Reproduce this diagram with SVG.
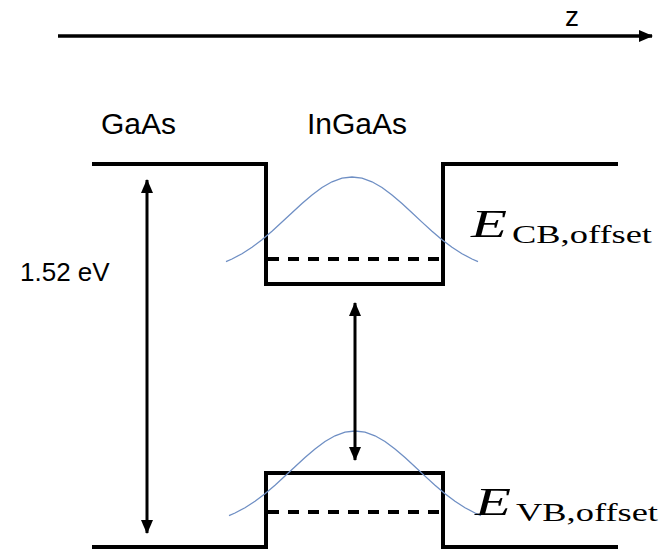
<svg xmlns="http://www.w3.org/2000/svg" width="664" height="552" viewBox="0 0 664 552">
<style>
.band{fill:none;stroke:#000;stroke-width:4;stroke-linejoin:miter}
.dash{fill:none;stroke:#000;stroke-width:4;stroke-dasharray:11 9}
.arr{fill:none;stroke:#000;stroke-width:3}
.axis{fill:none;stroke:#000;stroke-width:3.5}
.wave{fill:none;stroke:#6f8fc4;stroke-width:1.3}
.lbl{font-family:"Liberation Sans",Arial,sans-serif;font-size:30px;fill:#000}
.eit{font-family:"Liberation Serif","Times New Roman",serif;font-style:italic;font-size:40px;fill:#000}
.sub{font-family:"Liberation Serif","Times New Roman",serif;font-size:25px;fill:#000}
</style>
<defs>
<marker id="ah" viewBox="0 0 14 12" refX="13" refY="6" markerWidth="14" markerHeight="12" markerUnits="userSpaceOnUse" orient="auto-start-reverse">
<path d="M0,0 L14,6 L0,12 Z" fill="#000"/>
</marker>
<path id="gauss" d="M226,261.7 L232,259 L242,253.7 L252,247.2 L262,239.7 L272,231.2 L282,222.1 L292,212.7 L302,203.5 L312,194.9 L322,187.5 L332,181.8 L342,178.2 L352,177 L362,178.2 L372,181.8 L382,187.5 L392,194.9 L402,203.5 L412,212.7 L422,222.1 L432,231.2 L442,239.7 L452,247.2 L462,253.7 L472,259 L478,261.7"/>
</defs>
<g id="z-axis">
<line class="axis" x1="58" y1="36" x2="652" y2="36" marker-end="url(#ah)"/>
<text class="lbl" x="565" y="26" style="font-size:28px">z</text>
</g>
<g id="labels">
<text class="lbl" x="101" y="134">GaAs</text>
<text class="lbl" x="307" y="134">InGaAs</text>
<text class="lbl" x="20" y="281" style="font-size:26px">1.52 eV</text>
</g>
<g id="conduction-band">
<path class="band" d="M92,164 H266 V284 H443 V164 H618"/>
<line class="dash" x1="268" y1="259" x2="441" y2="259"/>
<use href="#gauss" class="wave"/>
</g>
<g id="valence-band">
<path class="band" d="M92,547 H266 V473 H443 V547 H618"/>
<line class="dash" x1="268" y1="512" x2="441" y2="512"/>
<use href="#gauss" class="wave" transform="translate(3,254)"/>
</g>
<g id="connectors">
<line class="arr" x1="147" y1="180" x2="147" y2="533" marker-start="url(#ah)" marker-end="url(#ah)"/>
<line class="arr" x1="355" y1="303" x2="355" y2="460" marker-start="url(#ah)" marker-end="url(#ah)"/>
</g>
<g id="e-cb">
<text class="eit" x="471" y="237" textLength="36" lengthAdjust="spacingAndGlyphs">E</text>
<text class="sub" x="512" y="243" textLength="140" lengthAdjust="spacingAndGlyphs">CB,offset</text>
</g>
<g id="e-vb">
<text class="eit" x="475" y="515" textLength="36" lengthAdjust="spacingAndGlyphs">E</text>
<text class="sub" x="516" y="521" textLength="142" lengthAdjust="spacingAndGlyphs">VB,offset</text>
</g>
</svg>
